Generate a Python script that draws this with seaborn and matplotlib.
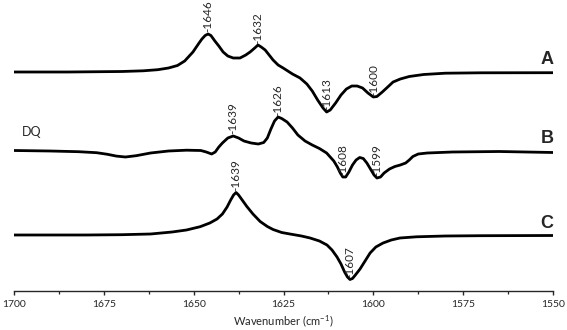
import numpy as np
import pandas as pd
import seaborn as sns
import matplotlib.pyplot as plt
from matplotlib.ticker import MultipleLocator

# Spectra: wavenumber (cm-1) and relative intensity (baseline = 0)
wn_a = [1700, 1685, 1670, 1664, 1660, 1657, 1654.5, 1652.5, 1650.2, 1648.5, 1647.7, 1646.8,
        1646, 1645.2, 1644.1, 1643, 1641.8, 1640.5, 1639, 1637.1, 1635.5, 1634.3, 1633,
        1632.1, 1631.2, 1630.1, 1629, 1627.9, 1626.5, 1625.1, 1622.5, 1620.4, 1618.5, 1617,
        1615.5, 1614, 1613, 1612, 1610.5, 1609, 1607.5, 1606, 1604.5, 1603, 1601.5, 1600,
        1599, 1597.5, 1596, 1594.5, 1592.5, 1590, 1586, 1580, 1570, 1550]
int_a = [0, 0, 0.5, 1.2, 2.3, 4, 6.5, 11, 20, 29, 33, 36.5,
         38, 36.5, 31, 26, 20, 16, 14, 14, 17, 20, 24,
         27, 25, 22, 17, 12, 7, 4, -2, -6, -12, -19,
         -28, -36, -40, -38, -31, -23, -17, -14, -14, -16, -21, -25,
         -24.5, -20, -15, -10, -7, -4.5, -2.5, -1.2, -0.8, -0.7]

wn_b = [1700, 1690, 1682, 1677, 1674, 1671.5, 1669, 1666, 1662, 1657, 1652, 1648, 1646.5,
        1645, 1644, 1643, 1642, 1640.5, 1639, 1637.5, 1636, 1634, 1632, 1630.5, 1629.5,
        1628.5, 1627.5, 1626.5, 1625.5, 1624, 1622.5, 1621, 1619, 1617, 1615, 1613, 1611,
        1610, 1609.2, 1608.5, 1607.7, 1606.8, 1605.8, 1604.8, 1603.8, 1602.8, 1601.8,
        1600.8, 1599.8, 1599, 1598, 1597, 1595.5, 1594, 1592.5, 1591, 1590, 1589, 1587.5,
        1585, 1578, 1565, 1550]
int_b = [0, -0.5, -1.2, -2.2, -3.8, -5.6, -6.5, -5.2, -2.5, -0.5, 0.3, 0, -1.5,
         -3.5, -1.5, 3.5, 7.5, 12.5, 14.5, 12.5, 9.5, 7.5, 6.5, 8, 12.5,
         21.5, 29.5, 33.5, 32, 28.5, 22.5, 15.5, 9.5, 5.5, 2, -2.5, -10.5,
         -16.5, -22.5, -26.5, -26.5, -21.5, -14.5, -9.5, -7, -8, -12.5,
         -18.5, -24.5, -27.5, -26.5, -22.5, -18.5, -16, -14.5, -12.5, -9.5, -6, -3.5,
         -2.5, -1.5, -1, -2]

wn_c = [1700, 1680, 1670, 1662, 1656, 1652, 1648.2, 1645.5, 1643.5, 1642, 1640.7, 1639.7,
        1638.9, 1638.2, 1637.5, 1636.5, 1635.2, 1633.5, 1631.5, 1629.5, 1627.9, 1625.5,
        1623.2, 1620, 1617.6, 1615, 1612.9, 1611.5, 1610.1, 1609, 1608, 1607.2, 1606.5,
        1605.8, 1605, 1603.7, 1602.3, 1600.9, 1599.3, 1597.3, 1595, 1592.6, 1588, 1580,
        1570, 1550]
int_c = [0, 0, 0.3, 1, 3, 5, 8.3, 12, 16, 21, 28, 35,
         40, 42.5, 40, 35, 28.5, 21, 13.5, 8.5, 5.5, 2.5,
         1, -1, -3, -6, -10, -15, -22, -29, -37, -42, -44.5,
         -43.5, -40, -34, -26, -18, -12, -8, -5, -3, -1.8, -1,
         -0.7, -0.5]

peaks_a = [1646, 1632, 1613, 1600]
peaks_b = [1639, 1626, 1608, 1599]
peaks_c = [1639, 1607]

trace_names = ["A", "B", "C"]
sample_name = "DQ"

sns.set_theme(style="ticks")
plt.rcParams.update({
    "font.family": ["Lato", "DejaVu Sans"],
    "mathtext.fontset": "custom",
    "mathtext.rm": "Lato",
    "mathtext.default": "rm",
    "axes.linewidth": 1.0,
    "xtick.direction": "out",
    "xtick.major.size": 3.0,
    "xtick.minor.size": 2.0,
    "xtick.major.width": 1.0,
    "xtick.minor.width": 0.9,
    "xtick.labelsize": 7.5,
})

fig = plt.figure(figsize=(5.67, 3.30), dpi=100)
ax = fig.add_axes([14 / 567, 39.5 / 330, 539 / 567, 290.5 / 330])

offsets = [218.5, 140, 55.5]
traces = [(wn_a, int_a, peaks_a), (wn_b, int_b, peaks_b), (wn_c, int_c, peaks_c)]

for name, off, (wn, inten, peaks) in zip(trace_names, offsets, traces):
    df = pd.DataFrame({"wn": wn, "y": np.array(inten) + off})
    sns.lineplot(data=df, x="wn", y="y", ax=ax, color="black", lw=2.0,
                 estimator=None, sort=False)
    w_arr = np.array(wn)
    v_arr = np.array(inten)
    for p in peaks:
        idx = np.where(np.abs(w_arr - p) <= 2.5)[0]
        k = idx[np.argmax(np.abs(v_arr[idx]))]
        ax.text(w_arr[k], v_arr[k] + off + 1.5, f"-{p}", rotation=90,
                ha="center", va="bottom", fontsize=8.5)
    ax.text(1551.7, off + 12, name, ha="center", va="center",
            fontsize=13, fontweight="bold", family=["Liberation Sans", "DejaVu Sans"])

ax.text(1695, offsets[1] + 18.5, sample_name, ha="center", va="center", fontsize=9)

ax.set_xlim(1700, 1550)
ax.set_ylim(0, 290.5)
ax.xaxis.set_major_locator(MultipleLocator(25))
ax.xaxis.set_minor_locator(MultipleLocator(12.5))
ax.tick_params(axis="x", pad=3.5)
ax.set_yticks([])
for s in ["left", "right", "top"]:
    ax.spines[s].set_visible(False)
ax.set_ylabel("")
ax.set_xlabel("Wavenumber (cm$^{-1}$)", fontsize=8, labelpad=3)

fig.savefig("out.png", dpi=100)
